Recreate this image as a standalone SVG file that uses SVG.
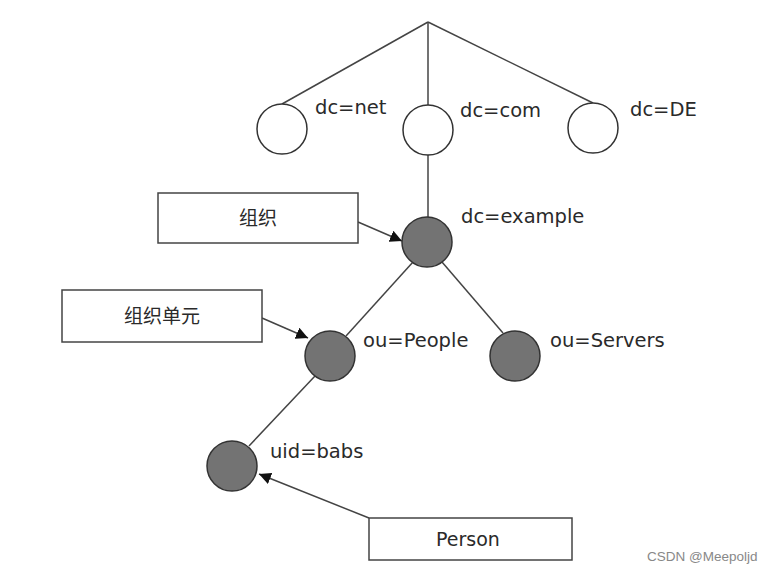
<svg xmlns="http://www.w3.org/2000/svg" width="774" height="573" viewBox="0 0 774 573">
<defs>
<style>
.c{stroke:#333;stroke-width:1.5}
.w{fill:#fff}
.g{fill:#737373}
.t{font-family:"DejaVu Sans",sans-serif;font-size:19.5px;fill:#2a2a2a}
.b{fill:#fff;stroke:#444;stroke-width:1.5}
.bt{font-family:"DejaVu Sans","Noto Sans CJK SC",sans-serif;font-size:19px;fill:#2a2a2a;text-anchor:middle}
.l{stroke:#444;stroke-width:1.5;fill:none}
.wm{font-family:"Liberation Sans",Arial,sans-serif;font-size:13.5px;fill:#888}
</style>
<marker id="ah" viewBox="0 0 10 10" refX="10" refY="5" markerWidth="12" markerHeight="12" markerUnits="userSpaceOnUse" orient="auto">
<path d="M0,0 L10,5 L0,10 z" fill="#111"/>
</marker>
</defs>
<rect width="774" height="573" fill="#fff"/>
<g id="connectors">
<line class="l" x1="428" y1="22" x2="282" y2="104"/>
<line class="l" x1="428" y1="22" x2="428" y2="105"/>
<line class="l" x1="428" y1="22" x2="593" y2="103"/>
<line class="l" x1="428" y1="155" x2="428" y2="217"/>
<line class="l" x1="413" y1="262" x2="346" y2="336"/>
<line class="l" x1="442" y1="262" x2="503" y2="333"/>
<line class="l" x1="315" y1="376" x2="249" y2="446"/>
<line class="l" x1="358" y1="222" x2="402" y2="241" marker-end="url(#ah)"/>
<line class="l" x1="262" y1="318" x2="308" y2="338" marker-end="url(#ah)"/>
<line class="l" x1="369" y1="518" x2="259" y2="474" marker-end="url(#ah)"/>
</g>
<g id="dc-net"><circle class="c w" cx="282" cy="129" r="25"/><text class="t" x="315" y="114">dc=net</text></g>
<g id="dc-com"><circle class="c w" cx="428" cy="130" r="25"/><text class="t" x="460" y="117">dc=com</text></g>
<g id="dc-DE"><circle class="c w" cx="593" cy="128" r="25"/><text class="t" x="630" y="116">dc=DE</text></g>
<g id="dc-example"><circle class="c g" cx="427" cy="242" r="25"/><text class="t" x="461" y="223">dc=example</text></g>
<g id="ou-People"><circle class="c g" cx="330" cy="356" r="25"/><text class="t" x="363" y="347">ou=People</text></g>
<g id="ou-Servers"><circle class="c g" cx="515" cy="356" r="25"/><text class="t" x="550" y="347">ou=Servers</text></g>
<g id="uid-babs"><circle class="c g" cx="232" cy="466" r="25"/><text class="t" x="270" y="458">uid=babs</text></g>
<g id="box-org"><rect class="b" x="158" y="193" width="200" height="50"/><text class="bt" x="258" y="225">组织</text></g>
<g id="box-ou"><rect class="b" x="62" y="290" width="200" height="52"/><text class="bt" x="162" y="323">组织单元</text></g>
<g id="box-person"><rect class="b" x="369" y="518" width="203" height="42"/><text class="bt" x="468" y="546">Person</text></g>
<text class="wm" x="647" y="561">CSDN @Meepoljd</text>
</svg>
